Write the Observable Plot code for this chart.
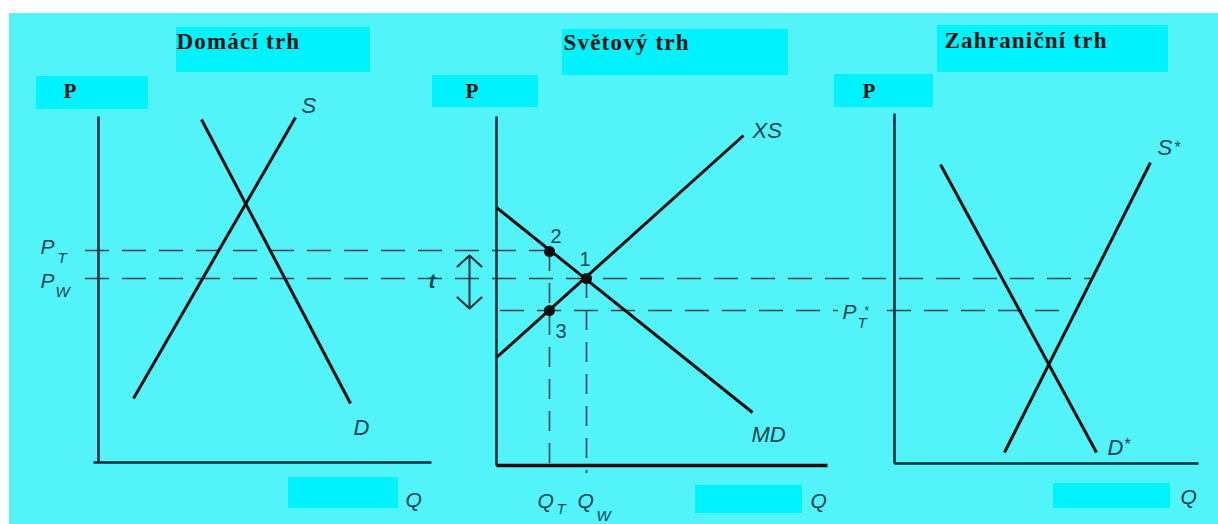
<!DOCTYPE html>
<html><head><meta charset="utf-8">
<script src="https://cdn.jsdelivr.net/npm/d3@7"></script>
<script src="https://cdn.jsdelivr.net/npm/@observablehq/plot@0.6"></script>
<style>html,body{margin:0;padding:0;background:#fff;overflow:hidden}</style>
</head><body><div id="chart"></div>
<script>
// ---- values (diagram units: q to the right, p downward) ----
const sheet = [{q1: 9, q2: 1218, p1: 13, p2: 524}];

const labelBoxes = [
  {q1: 176, q2: 370, p1: 27, p2: 72},
  {q1: 36, q2: 148, p1: 76, p2: 109},
  {q1: 562, q2: 788, p1: 29, p2: 75},
  {q1: 432, q2: 538, p1: 75, p2: 107},
  {q1: 937, q2: 1168, p1: 25, p2: 72},
  {q1: 834, q2: 933, p1: 74, p2: 107},
  {q1: 288, q2: 398, p1: 477, p2: 508},
  {q1: 695, q2: 802, p1: 485, p2: 513},
  {q1: 1053, q2: 1170, p1: 483, p2: 508}
];

const panelTitles = [
  {label: "Domácí trh", q: 176, p: 48},
  {label: "Světový trh", q: 563, p: 49},
  {label: "Zahraniční trh", q: 944, p: 47}
];
const priceAxisNames = [
  {label: "P", q: 63, p: 97},
  {label: "P", q: 465, p: 97},
  {label: "P", q: 862, p: 97}
];

const axes = [
  {panel: "domácí", q1: 98, p1: 116, q2: 98, p2: 462},
  {panel: "domácí", q1: 93, p1: 462, q2: 431, p2: 462},
  {panel: "světový", q1: 496, p1: 116, q2: 496, p2: 465},
  {panel: "zahraniční", q1: 894, p1: 113, q2: 894, p2: 463},
  {panel: "zahraniční", q1: 894, p1: 463, q2: 1198, p2: 463}
];
const worldQuantityAxis = [{q1: 496, p1: 465, q2: 827, p2: 465}];

const curves = [
  {name: "S", q1: 133, p1: 398, q2: 295, p2: 117},
  {name: "D", q1: 201, p1: 119, q2: 350, p2: 403},
  {name: "XS", q1: 496, p1: 357, q2: 743, p2: 135},
  {name: "MD", q1: 496, p1: 207, q2: 752, p2: 412},
  {name: "S*", q1: 1004, p1: 452, q2: 1150, p2: 162},
  {name: "D*", q1: 940, p1: 164, q2: 1096, p2: 452}
];
const curveNames = [
  {label: "S", q: 301, p: 112},
  {label: "D", q: 353, p: 434},
  {label: "XS", q: 752, p: 137},
  {label: "MD", q: 751, p: 441},
  {label: "S", q: 1157, p: 154},
  {label: "D", q: 1107, p: 454}
];
const curveStars = [
  {label: "*", q: 1174, p: 152},
  {label: "*", q: 1124, p: 449}
];
const priceStar = [{label: "*", q: 864, p: 314}];

const priceLevels = [
  {name: "PT", p: 250, q1: 85, q2: 549},
  {name: "PW", p: 278, q1: 85, q2: 1092},
  {name: "PT*", p: 310, q1: 500, q2: 838},
  {name: "PT*", p: 310, q1: 887, q2: 1063}
];
const quantityLevels = [
  {name: "QT", q: 549, p1: 251, p2: 473},
  {name: "QW", q: 586, p1: 278, p2: 473}
];

const equilibria = [
  {label: "1", q: 586, p: 278},
  {label: "2", q: 549, p: 251},
  {label: "3", q: 549, p: 310}
];
const equilibriumNames = [
  {label: "2", q: 550, p: 242},
  {label: "1", q: 579, p: 265},
  {label: "3", q: 555, p: 337}
];

const tariffShaft = [{q1: 469, p1: 255, q2: 469, p2: 308}];
const tariffHeads = [
  {q: 457, p: 266, z: "top"}, {q: 469, p: 255, z: "top"}, {q: 481, p: 266, z: "top"},
  {q: 457, p: 297, z: "bottom"}, {q: 469, p: 308, z: "bottom"}, {q: 481, p: 297, z: "bottom"}
];
const tariffName = [{label: "t", q: 428, p: 287}];

const levelNames = [
  {label: "P", q: 40, p: 253},
  {label: "P", q: 40, p: 287},
  {label: "P", q: 842, p: 318},
  {label: "Q", q: 537, p: 507},
  {label: "Q", q: 577, p: 507},
  {label: "Q", q: 405, p: 506},
  {label: "Q", q: 810, p: 507},
  {label: "Q", q: 1180, p: 503}
];
const subscripts = [
  {label: "T", q: 57, p: 262},
  {label: "W", q: 55, p: 296},
  {label: "T", q: 857, p: 327},
  {label: "T", q: 556, p: 513},
  {label: "W", q: 596, p: 520}
];

// ---- styles ----
const BG = "#52f4fa", BOX = "#00f2fc", INK = "#0d0d0d", AXIS = "#0b2a35", LABEL = "#1a4350";
const sans = "Liberation Sans, Arial, sans-serif";
const serif = "Liberation Serif, Times New Roman, serif";
const lbl = {x: "q", y: "p", text: "label", textAnchor: "start", lineAnchor: "bottom"};

const svg = Plot.plot({
  width: 1218,
  height: 524,
  margin: 0,
  x: {domain: [0, 1218], range: [0, 1218], axis: null},
  y: {domain: [0, 524], range: [0, 524], axis: null},
  style: {background: "#fff"},
  marks: [
    Plot.rect(sheet, {x1: "q1", x2: "q2", y1: "p1", y2: "p2", fill: BG}),
    Plot.rect(labelBoxes, {x1: "q1", x2: "q2", y1: "p1", y2: "p2", fill: BOX}),
    Plot.ruleY(priceLevels, {y: "p", x1: "q1", x2: "q2", stroke: LABEL, strokeWidth: 1.6, strokeDasharray: "24,13"}),
    Plot.ruleX(quantityLevels, {x: "q", y1: "p1", y2: "p2", stroke: LABEL, strokeWidth: 1.6, strokeDasharray: "20,12"}),
    Plot.link(axes, {x1: "q1", y1: "p1", x2: "q2", y2: "p2", stroke: AXIS, strokeWidth: 2.5}),
    Plot.link(worldQuantityAxis, {x1: "q1", y1: "p1", x2: "q2", y2: "p2", stroke: INK, strokeWidth: 3.5}),
    Plot.link(curves, {x1: "q1", y1: "p1", x2: "q2", y2: "p2", stroke: INK, strokeWidth: 3}),
    Plot.link(tariffShaft, {x1: "q1", y1: "p1", x2: "q2", y2: "p2", stroke: AXIS, strokeWidth: 2}),
    Plot.line(tariffHeads, {x: "q", y: "p", z: "z", stroke: AXIS, strokeWidth: 2}),
    Plot.dot(equilibria, {x: "q", y: "p", r: 5.5, fill: INK, stroke: null}),
    Plot.text(panelTitles, {...lbl, fontFamily: serif, fontWeight: "bold", fontSize: 23, fill: "#111"}),
    Plot.text(priceAxisNames, {...lbl, fontFamily: serif, fontWeight: "bold", fontSize: 21, fill: "#111"}),
    Plot.text(curveNames, {...lbl, fontFamily: sans, fontStyle: "italic", fontSize: 22, fill: LABEL}),
    Plot.text(curveStars, {...lbl, fontFamily: sans, fontSize: 16, fill: LABEL}),
    Plot.text(priceStar, {...lbl, fontFamily: sans, fontSize: 12, fill: LABEL}),
    Plot.text(levelNames, {...lbl, fontFamily: sans, fontStyle: "italic", fontSize: 21, fill: LABEL}),
    Plot.text(subscripts, {...lbl, fontFamily: sans, fontStyle: "italic", fontSize: 15, fill: LABEL}),
    Plot.text(equilibriumNames, {...lbl, fontFamily: sans, fontSize: 20, fill: LABEL}),
    Plot.text(tariffName, {...lbl, fontFamily: sans, fontStyle: "italic", fontWeight: "bold", fontSize: 21, fill: LABEL})
  ]
});
const titleSet = new Set(panelTitles.map(d => d.label));
d3.select(svg).selectAll("text")
  .filter(function() { return titleSet.has(this.textContent); })
  .style("letter-spacing", "1.2px");
document.getElementById("chart").append(svg);
</script></body></html>
